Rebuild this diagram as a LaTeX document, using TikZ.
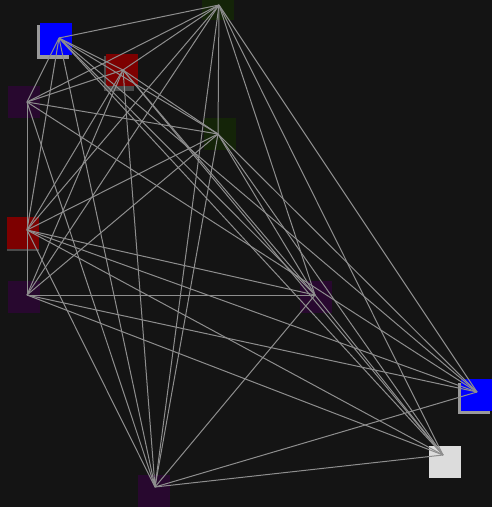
\documentclass[tikz,border=0pt]{standalone}
\definecolor{bg}{HTML}{141414}
\definecolor{edgec}{HTML}{8E8E8E}
\definecolor{nblue}{HTML}{0000FF}
\definecolor{nred}{HTML}{7D0000}
\definecolor{npurple}{HTML}{28082F}
\definecolor{ngreen}{HTML}{142408}
\definecolor{nwhite}{HTML}{DCDCDC}
\definecolor{nshadow}{HTML}{9A9A9A}
\definecolor{nshadowd}{HTML}{4A4A4A}
\begin{document}
\begin{tikzpicture}[x=1pt,y=-1pt,
  sq/.style={minimum size=32pt,inner sep=0pt,outer sep=0pt,draw=none},
  edge/.style={draw=edgec,line width=1pt}]
\fill[bg] (0,0) rectangle (492,507);
\useasboundingbox (0,0) rectangle (492,507);
% node boxes
\fill[nshadow] (37,25) rectangle (69,59);
\node[sq,fill=nblue] (b1) at (56,38.5) {};
\node[sq,fill=ngreen] (b2) at (218,4) {};
\fill[nshadowd] (104,56) rectangle (134,91);
\node[sq,fill=nred] (b3) at (122,70) {};
\node[sq,fill=npurple] (b4) at (23.5,102) {};
\node[sq,fill=ngreen] (b5) at (220,134) {};
\fill[nshadowd] (7,220) rectangle (39,251);
\node[sq,fill=nred] (b6) at (23,233) {};
\node[sq,fill=npurple] (b7) at (23.5,297) {};
\node[sq,fill=npurple] (b8) at (316,297) {};
\fill[nshadow] (458,383) rectangle (490,414);
\node[sq,fill=nblue] (b9) at (476.5,395) {};
\node[sq,fill=nwhite] (b10) at (445,461.5) {};
\node[sq,fill=npurple] (b11) at (153.5,491) {};
% edge anchors
\coordinate (n1) at (59,38);
\coordinate (n2) at (219,5);
\coordinate (n3) at (123,70);
\coordinate (n4) at (27,102);
\coordinate (n5) at (218,134);
\coordinate (n6) at (27,230);
\coordinate (n7) at (27,295);
\coordinate (n8) at (315,295);
\coordinate (n9) at (477,392);
\coordinate (n10) at (443,455);
\coordinate (n11) at (155,487);
\foreach \a/\b in {1/2,1/3,1/4,1/5,1/8,1/9,1/10,1/11,1/6,
  2/3,2/4,2/5,2/6,2/7,2/8,2/9,2/10,2/11,
  3/4,3/5,3/6,3/7,3/8,3/10,3/11,
  4/5,4/7,4/9,4/11,
  5/6,5/7,5/8,5/9,5/10,5/11,
  6/8,6/9,6/10,6/11,
  7/8,7/9,7/10,
  8/10,8/11,
  9/11,10/11}
  \draw[edge] (n\a) -- (n\b);
\end{tikzpicture}
\end{document}
